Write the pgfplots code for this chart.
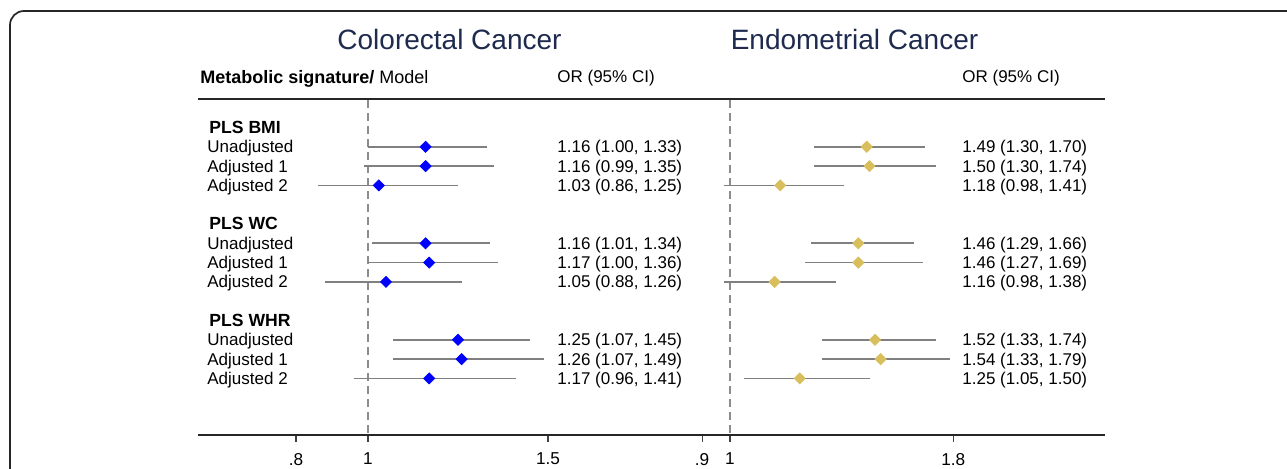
\documentclass[border=0pt]{standalone}
\usepackage{pgfplots}
\usepackage{pgfplotstable}
\pgfplotsset{compat=1.18}
\usepackage{fontspec}
\setmainfont{Liberation Sans}
\definecolor{navy}{RGB}{30,42,78}
\definecolor{ciblue}{RGB}{0,0,255}
\definecolor{gold}{RGB}{216,190,92}
\definecolor{cigray}{RGB}{128,128,128}
\definecolor{refgray}{RGB}{140,140,140}

% Colorectal cancer: row OR lower upper
\pgfplotstableread{
row or lo hi
1 1.16 1.00 1.33
2 1.16 0.99 1.35
3 1.03 0.86 1.25
6 1.16 1.01 1.34
7 1.17 1.00 1.36
8 1.05 0.88 1.26
11 1.25 1.07 1.45
12 1.26 1.07 1.49
13 1.17 0.96 1.41
}\crc

% Endometrial cancer
\pgfplotstableread{
row or lo hi
1 1.49 1.30 1.70
2 1.50 1.30 1.74
3 1.18 0.98 1.41
6 1.46 1.29 1.66
7 1.46 1.27 1.69
8 1.16 0.98 1.38
11 1.52 1.33 1.74
12 1.54 1.33 1.79
13 1.25 1.05 1.50
}\ec

\pgfplotsset{
  forest/.style={
    scale only axis,
    height=168pt,
    y dir=reverse,
    ymin=-1.477, ymax=15.933,
    axis x line*=bottom,
    axis y line=none,
    axis line style={line width=0.7pt, black!85},
    xtick pos=bottom,
    tick align=outside,
    major tick length=3.5pt,
    xtick style={line width=0.6pt, black!75},
    xticklabel style={font=\fontsize{8.6}{10}\selectfont, yshift=-2pt},
    /pgf/number format/assume math mode=true,
    clip=false,
  },
}

\tikzset{lab/.style={anchor=base west, inner sep=0pt, yshift=-3pt, font=\fontsize{8.5}{10}\selectfont}}

\begin{document}
\begin{tikzpicture}[x=0.5pt,y=0.5pt]
\useasboundingbox (0,0) rectangle (1287,469);
\begin{scope}
\clip (0,0) rectangle (1287,469);
\draw[line width=0.85pt, rounded corners=7pt, black!85] (10,-40) -- (10,458) -- (1330,458);
\end{scope}

% titles
\node[font=\fontsize{14}{16}\selectfont, text=navy] at (449.5,429) {Colorectal Cancer};
\node[font=\fontsize{14}{16}\selectfont, text=navy] at (854.5,429) {Endometrial Cancer};

% column headers
\node[lab, font=\fontsize{9}{10}\selectfont] at (200,{469-78}) {\textbf{Metabolic signature/} Model};
\node[lab] at (557,{469-77}) {OR (95\% CI)};
\node[lab] at (962,{469-77}) {OR (95\% CI)};

% top rule
\draw[line width=0.7pt, black!85] (198,370) -- (1105,370);

% row labels
\foreach \k/\t in {0/PLS BMI,5/PLS WC,10/PLS WHR}
  \node[lab, font=\fontsize{8.8}{10}\selectfont\bfseries] at (209,{469-127.5-19.3*\k}) {\t};
\foreach \k/\t in {1/Unadjusted,2/Adjusted 1,3/Adjusted 2,6/Unadjusted,7/Adjusted 1,8/Adjusted 2,11/Unadjusted,12/Adjusted 1,13/Adjusted 2}
  \node[lab] at (207,{469-127.5-19.3*\k}) {\t};

% values text
\foreach \k/\t in {1/{1.16 (1.00, 1.33)},2/{1.16 (0.99, 1.35)},3/{1.03 (0.86, 1.25)},6/{1.16 (1.01, 1.34)},7/{1.17 (1.00, 1.36)},8/{1.05 (0.88, 1.26)},11/{1.25 (1.07, 1.45)},12/{1.26 (1.07, 1.49)},13/{1.17 (0.96, 1.41)}}
  \node[lab] at (557,{469-127.5-19.3*\k}) {\t};
\foreach \k/\t in {1/{1.49 (1.30, 1.70)},2/{1.50 (1.30, 1.74)},3/{1.18 (0.98, 1.41)},6/{1.46 (1.29, 1.66)},7/{1.46 (1.27, 1.69)},8/{1.16 (0.98, 1.38)},11/{1.52 (1.33, 1.74)},12/{1.54 (1.33, 1.79)},13/{1.25 (1.05, 1.50)}}
  \node[lab] at (962,{469-127.5-19.3*\k}) {\t};

% left panel
\begin{axis}[forest, at={(99pt,17pt)}, anchor=south west,
  width=246pt, xmin=0.52778, xmax=1.89444,
  xtick={0.8,1,1.5}, xticklabels={.8,1,1.5}]
\draw[refgray, line width=0.6pt, dash pattern=on 4pt off 2.5pt] (axis cs:1,-1.4) -- (axis cs:1,15.933);
\addplot[only marks, mark=square*, mark size=1.95pt,
  mark options={rotate=45, fill=ciblue, draw=ciblue},
  error bars/.cd, x dir=both, x explicit, error mark=none,
  error bar style={cigray, line width=0.85pt}]
  table[x=or, y=row, x error plus expr=\thisrow{hi}-\thisrow{or}, x error minus expr=\thisrow{or}-\thisrow{lo}] {\crc};
\end{axis}

% right panel
\begin{axis}[forest, at={(345pt,17pt)}, anchor=south west,
  width=207.5pt, xmin=0.85663, xmax=2.34409,
  xtick={0.9,1,1.8}, xticklabels={.9,1,1.8}]
\draw[refgray, line width=0.6pt, dash pattern=on 4pt off 2.5pt] (axis cs:1,-1.4) -- (axis cs:1,15.933);
\addplot[only marks, mark=square*, mark size=1.95pt,
  mark options={rotate=45, fill=gold, draw=gold},
  error bars/.cd, x dir=both, x explicit, error mark=none,
  error bar style={cigray, line width=0.85pt}]
  table[x=or, y=row, x error plus expr=\thisrow{hi}-\thisrow{or}, x error minus expr=\thisrow{or}-\thisrow{lo}] {\ec};
\end{axis}
\end{tikzpicture}
\end{document}
